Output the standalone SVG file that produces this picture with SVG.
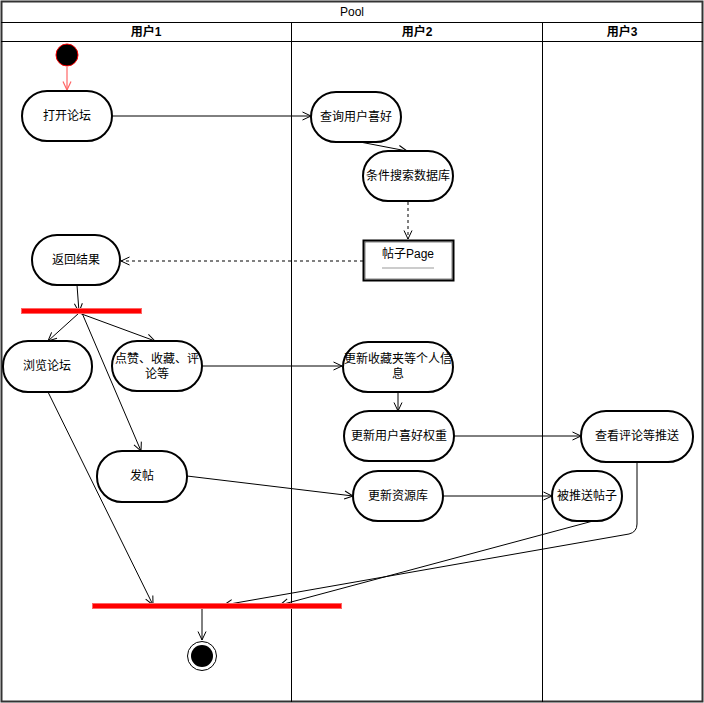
<svg xmlns="http://www.w3.org/2000/svg" width="704" height="703" viewBox="0 0 704 703">
<style>
  text { font-family: "Liberation Sans", "Noto Sans CJK SC", sans-serif; font-size: 12px; fill: #000; text-anchor: middle; dominant-baseline: central; }
  .hdr { font-weight: bold; }
  .node { fill: #fff; stroke: #000; stroke-width: 2; }
  .conn { fill: none; stroke: #000; stroke-width: 1; }
  .dash { stroke-dasharray: 3 3; }
  .bar { fill: #ff0000; stroke: #ff6666; stroke-width: 1; }
  .lane { fill: none; stroke: #000; stroke-width: 1; }
</style>
<defs>
  <marker id="arr" viewBox="0 0 10 10" refX="9.5" refY="5" markerWidth="10" markerHeight="10" markerUnits="userSpaceOnUse" orient="auto">
    <path d="M1,1 L9.5,5 L1,9" fill="none" stroke="#000" stroke-width="1"/>
  </marker>
  <marker id="arrRed" viewBox="0 0 10 10" refX="9.5" refY="5" markerWidth="10" markerHeight="10" markerUnits="userSpaceOnUse" orient="auto">
    <path d="M1,1 L9.5,5 L1,9" fill="none" stroke="#ff6666" stroke-width="1.2"/>
  </marker>
</defs>
<rect x="0" y="0" width="704" height="703" fill="#fff"/>
<g id="pool">
  <rect x="1.5" y="1.5" width="701" height="700" fill="#fff" stroke="#333" stroke-width="2"/>
  <line class="lane" x1="1" y1="22.5" x2="703" y2="22.5"/>
  <line class="lane" x1="1" y1="41.5" x2="703" y2="41.5"/>
  <line class="lane" x1="291.5" y1="22" x2="291.5" y2="702"/>
  <line class="lane" x1="542.5" y1="22" x2="542.5" y2="702"/>
  <text x="352" y="12">Pool</text>
  <text class="hdr" x="146" y="31.5">用户1</text>
  <text class="hdr" x="417" y="31.5">用户2</text>
  <text class="hdr" x="622" y="31.5">用户3</text>
</g>
<g id="connectors">
  <line x1="67" y1="67" x2="67" y2="90" fill="none" stroke="#ff6666" stroke-width="1.2" marker-end="url(#arrRed)"/>
  <line class="conn" x1="112" y1="116" x2="311" y2="116" marker-end="url(#arr)"/>
  <line class="conn" x1="360" y1="142" x2="407" y2="151" marker-end="url(#arr)"/>
  <line class="conn dash" x1="408" y1="202" x2="408" y2="239" marker-end="url(#arr)"/>
  <line class="conn dash" x1="363" y1="261" x2="121" y2="261" marker-end="url(#arr)"/>
  <line class="conn" x1="77" y1="285" x2="79" y2="312" marker-end="url(#arr)"/>
  <line class="conn" x1="79" y1="313" x2="48" y2="341" marker-end="url(#arr)"/>
  <line class="conn" x1="79" y1="313" x2="155" y2="341" marker-end="url(#arr)"/>
  <line class="conn" x1="82" y1="313" x2="141" y2="451" marker-end="url(#arr)"/>
  <line class="conn" x1="202" y1="366" x2="342" y2="366" marker-end="url(#arr)"/>
  <line class="conn" x1="398" y1="392" x2="398" y2="411" marker-end="url(#arr)"/>
  <line class="conn" x1="454" y1="436" x2="581" y2="436" marker-end="url(#arr)"/>
  <line class="conn" x1="187" y1="476" x2="353" y2="496" marker-end="url(#arr)"/>
  <line class="conn" x1="443" y1="496" x2="552" y2="496" marker-end="url(#arr)"/>
  <line class="conn" x1="48" y1="392" x2="153" y2="605" marker-end="url(#arr)"/>
  <line class="conn" x1="593" y1="521" x2="280" y2="605" marker-end="url(#arr)"/>
  <path class="conn" d="M637,462 L637,524 Q637,532 629,534 L224,605" marker-end="url(#arr)"/>
  <line class="conn" x1="202" y1="609" x2="202" y2="640" marker-end="url(#arr)"/>
</g>
<g id="start">
  <circle cx="67" cy="55" r="11" fill="#000" stroke="#ff0000" stroke-width="1"/>
</g>
<g id="open-forum">
  <rect class="node" x="22" y="91" width="90" height="50" rx="25" ry="25"/>
  <text x="67" y="116">打开论坛</text>
</g>
<g id="query-pref">
  <rect class="node" x="311" y="92" width="90" height="50" rx="25" ry="25"/>
  <text x="356" y="117">查询用户喜好</text>
</g>
<g id="search-db">
  <rect class="node" x="363" y="151" width="90" height="50" rx="25" ry="25"/>
  <text x="408" y="176">条件搜索数据库</text>
</g>
<g id="post-page">
  <rect x="363.5" y="240.5" width="90" height="40" fill="#fff" stroke="#000" stroke-width="2"/>
  <rect x="365" y="242" width="87" height="37" fill="none" stroke="#000" stroke-width="0.5"/>
  <text x="408" y="254">帖子Page</text>
  <line x1="382" y1="268" x2="434" y2="268" stroke="#999" stroke-width="1"/>
</g>
<g id="return-result">
  <rect class="node" x="32" y="235" width="88" height="50" rx="25" ry="25"/>
  <text x="76" y="260">返回结果</text>
</g>
<g id="fork1">
  <rect class="bar" x="21.5" y="308.5" width="120" height="5"/>
</g>
<g id="browse">
  <rect class="node" x="3" y="341" width="89" height="51" rx="25" ry="25"/>
  <text x="47" y="366">浏览论坛</text>
</g>
<g id="like">
  <rect class="node" x="112" y="341" width="90" height="50" rx="25" ry="25"/>
  <text x="157" y="359">点赞、收藏、评</text>
  <text x="157" y="374">论等</text>
</g>
<g id="update-fav">
  <rect class="node" x="343" y="342" width="110" height="50" rx="25" ry="25"/>
  <text x="398" y="359">更新收藏夹等个人信</text>
  <text x="398" y="374">息</text>
</g>
<g id="update-weight">
  <rect class="node" x="344" y="411" width="110" height="50" rx="25" ry="25"/>
  <text x="399" y="436">更新用户喜好权重</text>
</g>
<g id="view-push">
  <rect class="node" x="581" y="411" width="112" height="51" rx="25" ry="25"/>
  <text x="637" y="436">查看评论等推送</text>
</g>
<g id="post">
  <rect class="node" x="97" y="451" width="90" height="51" rx="25" ry="25"/>
  <text x="142" y="476">发帖</text>
</g>
<g id="update-res">
  <rect class="node" x="353" y="471" width="90" height="50" rx="25" ry="25"/>
  <text x="398" y="496">更新资源库</text>
</g>
<g id="pushed">
  <rect class="node" x="552" y="471" width="70" height="50" rx="25" ry="25"/>
  <text x="587" y="496">被推送帖子</text>
</g>
<g id="fork2">
  <rect class="bar" x="92.5" y="603.5" width="249" height="5"/>
</g>
<g id="end">
  <circle cx="202" cy="656" r="14.5" fill="#fff" stroke="#000" stroke-width="1"/>
  <circle cx="202" cy="656" r="11" fill="#000"/>
</g>
</svg>
